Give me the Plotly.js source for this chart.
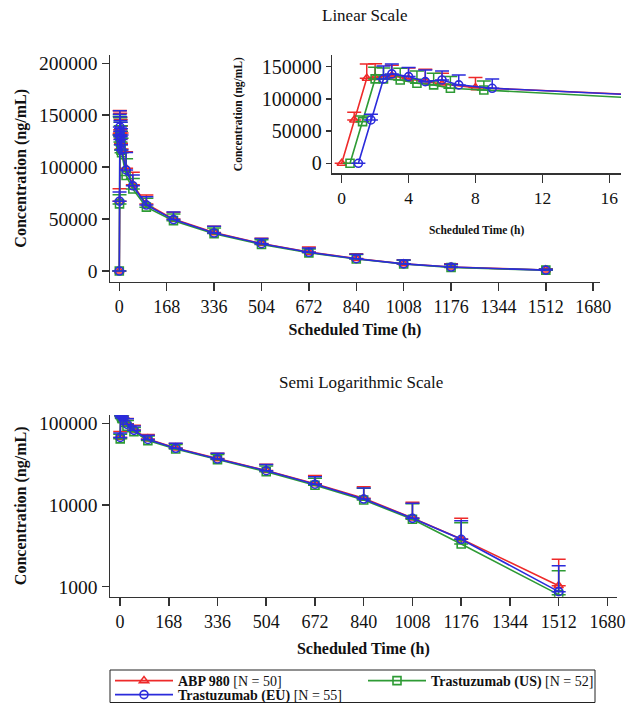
<!DOCTYPE html>
<html>
<head>
<meta charset="utf-8">
<script src="https://cdn.plot.ly/plotly-3.0.1.min.js"></script>
<style>
html,body{margin:0;padding:0;background:#fff;overflow:hidden}
#chart{width:627px;height:703px}
</style>
</head>
<body>
<div id="chart"></div>
<script>
// Nominal scheduled sampling times (h)
const times = [0, 0.75, 1.5, 2, 3, 4, 5, 6, 8, 24, 48, 96, 192, 336, 504, 672, 840, 1008, 1176, 1512];

// ABP 980 [N = 50]
const abpMean  = [0, 67200, 132000, 133000, 136000, 131000, 127000, 123000, 117400, 99000, 83000, 64500, 50000, 37000, 26500, 18200, 12100, 6950, 3850, 1030];
const abpUpper = [0, 79200, 154200, 154500, 152000, 148000, 145900, 139700, 133000, 114900, 95000, 73200, 56500, 43000, 31500, 23000, 16700, 10800, 6870, 2164];

// Trastuzumab (US) [N = 52]
const usMean  = [0, 64600, 130900, 131000, 129300, 124200, 121600, 116400, 113800, 92000, 79000, 61500, 48500, 36000, 25500, 17500, 11500, 6700, 3330, 800];
const usUpper = [0, 73400, 149000, 148000, 147500, 143300, 139800, 134500, 127800, 108000, 89000, 70000, 55000, 41500, 30000, 21300, 16000, 10400, 6070, 1570];

// Trastuzumab (EU) [N = 55]
const euMean  = [0, 67200, 130900, 138700, 134500, 126700, 129300, 121600, 116400, 97300, 82100, 63500, 49500, 36600, 26300, 18000, 11840, 6870, 3805, 870];
const euUpper = [0, 76000, 151000, 154200, 148500, 144900, 143300, 137000, 130900, 114000, 92500, 71500, 56900, 43000, 31400, 22200, 16200, 10500, 6420, 1807];

const seriesNames = ['<b>ABP 980</b> [N = 50]', '<b>Trastuzumab (US)</b> [N = 52]', '<b>Trastuzumab (EU)</b> [N = 55]'];

const xTicksMain = [0, 168, 336, 504, 672, 840, 1008, 1176, 1344, 1512, 1680];
const yTicksLin = [0, 50000, 100000, 150000, 200000];
const xTicksInset = [0, 4, 8, 12, 16];
const yTicksInset = [0, 50000, 100000, 150000];
const yTicksLog = [1000, 10000, 100000];

// ---- styling ----
const W = 627, H = 703;
const FONT = 'Liberation Serif, Times New Roman, serif';
const colors = ['#EE2A2A', '#2E9B35', '#2B2BDB'];
const symbols = ['triangle-up-open', 'square-open', 'circle-open'];
const insetDodge = [0, 0.5, 1.0];
const legendRow = ['legend', 'legend', 'legend2'];
const series = [[abpMean, abpUpper], [usMean, usUpper], [euMean, euUpper]];

const traces = [];
series.forEach(([mean, upper], i) => {
  const err = upper.map((u, k) => u - mean[k]);
  const base = {
    type: 'scatter', mode: 'lines+markers', name: seriesNames[i], legendgroup: 'g' + i, legend: legendRow[i],
    line: {color: colors[i], width: 1.6},
    marker: {symbol: symbols[i], size: 8, color: colors[i], line: {width: 1.6, color: colors[i]}},
    error_y: {type: 'data', symmetric: false, array: err, arrayminus: err.map(() => 0),
              color: colors[i], thickness: 1.5, width: 7}
  };
  traces.push(Object.assign({}, base, {x: times, y: mean, xaxis: 'x', yaxis: 'y', showlegend: true}));
  traces.push(Object.assign({}, base, {x: times.map(t => t + insetDodge[i]), y: mean, xaxis: 'x2', yaxis: 'y2', showlegend: false}));
  // log scale: non-positive (pre-dose) values cannot be drawn
  traces.push(Object.assign({}, base, {x: times, y: mean.map(v => v > 0 ? v : null), xaxis: 'x3', yaxis: 'y3',
    showlegend: false, connectgaps: false}));
});

const px = v => v / W;
const py = v => 1 - v / H;

const axisBase = {
  showline: true, linecolor: '#333', linewidth: 1.5, ticks: 'outside', ticklen: 8, tickwidth: 1.5,
  tickcolor: '#333', showgrid: false, zeroline: false, fixedrange: true,
  tickfont: {family: FONT, size: 18, color: '#111'}
};
const yTickFont = {family: FONT, size: 19.5, color: '#111'};
const titleFont = {family: FONT, size: 16, color: '#111'};
const insetTitleFont = {family: FONT, size: 11.5, color: '#111'};
const legendBase = {
  orientation: 'h', xanchor: 'left', yanchor: 'middle', borderwidth: 0, bgcolor: 'rgba(0,0,0,0)',
  font: {family: FONT, size: 14, color: '#111'}, entrywidth: 180, itemwidth: 58, traceorder: 'normal'
};

const layout = {
  width: W, height: H, margin: {l: 0, r: 0, t: 0, b: 0, autoexpand: false},
  paper_bgcolor: '#fff', plot_bgcolor: 'rgba(0,0,0,0)',
  font: {family: FONT, color: '#111'},
  showlegend: true,
  legend: Object.assign({}, legendBase, {x: px(110), y: py(681)}),
  legend2: Object.assign({}, legendBase, {x: px(110), y: py(695)}),
  shapes: [
    {type: 'rect', xref: 'paper', yref: 'paper', x0: px(110), x1: px(595), y0: py(702.5), y1: py(670),
     line: {color: '#222', width: 1}, fillcolor: 'rgba(0,0,0,0)', layer: 'above'}
  ],
  xaxis: Object.assign({}, axisBase, {
    domain: [px(110), px(600)], anchor: 'y', range: [-33, 1704], tickvals: xTicksMain,
    ticklabelstandoff: 0,
    title: {text: '<b>Scheduled Time (h)</b>', font: titleFont, standoff: 8}
  }),
  yaxis: Object.assign({}, axisBase, {
    domain: [py(281.7), py(55)], anchor: 'x', range: [-10300, 208000], tickvals: yTicksLin, tickformat: 'd', ticklen: 7,
    tickfont: yTickFont,
    title: {text: '<b>Concentration (ng/mL)</b>', font: titleFont, standoff: 8}
  }),
  xaxis2: Object.assign({}, axisBase, {
    domain: [px(332.3), px(621)], anchor: 'y2', range: [-0.56, 16.7], tickvals: xTicksInset,
    tickfont: {family: FONT, size: 17.5, color: '#111'}, ticklabelstandoff: 0,
    title: {text: '<b>Scheduled Time (h)</b>', font: insetTitleFont, standoff: 19}
  }),
  yaxis2: Object.assign({}, axisBase, {
    domain: [py(173.3), py(55)], anchor: 'x2', range: [-15500, 168000], tickvals: yTicksInset, tickformat: 'd', ticklen: 5,
    tickfont: {family: FONT, size: 20, color: '#111'},
    title: {text: '<b>Concentration (ng/mL)</b>', font: insetTitleFont, standoff: 17}
  }),
  xaxis3: Object.assign({}, axisBase, {
    domain: [px(110), px(616.7)], anchor: 'y3', range: [-34.5, 1712], tickvals: xTicksMain,
    ticklabelstandoff: 0,
    title: {text: '<b>Scheduled Time (h)</b>', font: titleFont, standoff: 12}
  }),
  yaxis3: Object.assign({}, axisBase, {
    domain: [py(596.7), py(415)], anchor: 'x3', type: 'log', range: [2.878, 5.102], tickvals: yTicksLog, tickformat: 'd', ticklen: 7,
    tickfont: yTickFont,
    title: {text: '<b>Concentration (ng/mL)</b>', font: titleFont, standoff: 8}
  }),
  annotations: [
    {text: 'Linear Scale', xref: 'paper', yref: 'paper', x: px(364), y: py(15), xanchor: 'center', yanchor: 'middle',
     showarrow: false, font: {family: FONT, size: 17, color: '#111'}},
    {text: 'Semi Logarithmic Scale', xref: 'paper', yref: 'paper', x: px(361), y: py(382), xanchor: 'center', yanchor: 'middle',
     showarrow: false, font: {family: FONT, size: 17, color: '#111'}}
  ]
};

Plotly.newPlot('chart', traces, layout, {staticPlot: true, displayModeBar: false});
</script>
</body>
</html>
